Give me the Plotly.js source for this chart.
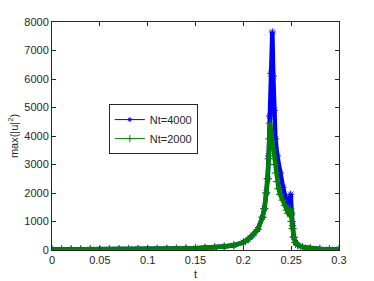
<!DOCTYPE html>
<html>
<head>
<meta charset="utf-8">
<script src="https://cdn.plot.ly/plotly-3.0.1.min.js"></script>
<style>html,body{margin:0;padding:0;background:#fff;}#chart{width:374px;height:281px;}</style>
</head>
<body>
<div id="chart"></div>
<script>
// Nt=4000 series
const tBlue = [0,0.01,0.02,0.03,0.04,0.05,0.06,0.07,0.08,0.09,0.1,0.11,0.12,0.13,0.14,0.15,0.16,0.17,0.18,0.19,0.2,0.205,0.21,0.215,0.22,0.222,0.224,0.2255,0.2265,0.2275,0.2288,0.2303,0.2313,0.2322,0.2335,0.2355,0.2385,0.2415,0.244,0.2458,0.247,0.2482,0.2495,0.2505,0.2515,0.2527,0.2545,0.257,0.262,0.27,0.28,0.29,0.3];
const uBlue = [20,20,21,22,23,24,25,27,29,31,34,37,41,46,53,62,75,92,120,165,270,370,520,720,1150,1450,2000,2500,3300,4700,6200,7650,6100,4900,3900,3300,2700,2200,1850,1620,1580,1700,1960,1300,850,450,260,170,100,60,38,28,22];
// Nt=2000 series
const tGreen = [0,0.01,0.02,0.03,0.04,0.05,0.06,0.07,0.08,0.09,0.1,0.11,0.12,0.13,0.14,0.15,0.16,0.17,0.18,0.19,0.2,0.205,0.21,0.215,0.22,0.222,0.224,0.2255,0.2265,0.2272,0.228,0.2292,0.2305,0.2316,0.2328,0.234,0.2352,0.2368,0.2385,0.241,0.2435,0.2455,0.247,0.2482,0.249,0.2498,0.2505,0.2515,0.2527,0.2545,0.257,0.262,0.27,0.28,0.29,0.3];
const uGreen = [20,20,21,22,23,24,25,27,29,31,34,37,41,46,53,62,75,92,120,165,270,370,520,720,1150,1450,2000,2500,3200,3900,4450,4150,3800,3500,3000,2700,2400,2150,1950,1750,1560,1400,1290,1330,1460,1250,1000,750,450,260,170,100,60,38,28,22];
const seriesNames = ["Nt=4000", "Nt=2000"];
const yTicks = [0,1000,2000,3000,4000,5000,6000,7000,8000];
const xTicks = [0,0.05,0.1,0.15,0.2,0.25,0.3];

const blue = "#0000ff", green = "#008000";
const traces = [
  {x: tBlue, y: uBlue, mode: "lines+markers", showlegend: false,
   line: {color: blue, width: 4.5},
   marker: {symbol: "asterisk-open", size: 6, color: blue, line: {color: blue, width: 1}}},
  {x: tGreen, y: uGreen, mode: "lines+markers", showlegend: false,
   line: {color: green, width: 4.5},
   marker: {symbol: "cross-thin-open", size: 6, color: green, line: {color: green, width: 1}}},
  {x: [null], y: [null], mode: "lines+markers", name: seriesNames[0],
   line: {color: blue, width: 1}, marker: {symbol: "asterisk-open", size: 4, color: blue, line: {color: blue, width: 1}}},
  {x: [null], y: [null], mode: "lines+markers", name: seriesNames[1],
   line: {color: green, width: 1}, marker: {symbol: "cross-thin-open", size: 5, color: green, line: {color: green, width: 1}}}
];
const axisCommon = {
  showline: true, mirror: "ticks", linecolor: "#262626", linewidth: 1,
  ticks: "inside", ticklen: 4, tickcolor: "#262626", showgrid: false, zeroline: false,
  tickfont: {family: "Liberation Sans, Arial, sans-serif", size: 11, color: "#262626"}
};
const layout = {
  width: 374, height: 281,
  margin: {l: 52, r: 35, t: 22, b: 31},
  paper_bgcolor: "#fff", plot_bgcolor: "#fff",
  font: {family: "Liberation Sans, Arial, sans-serif", size: 11, color: "#262626"},
  xaxis: Object.assign({}, axisCommon, {range: [0, 0.3], tickvals: xTicks,
    title: {text: "t", standoff: 5, font: {size: 11}}}),
  yaxis: Object.assign({}, axisCommon, {range: [0, 8000], tickvals: yTicks,
    title: {text: "max(|u|<sup>2</sup>)", standoff: 3, font: {size: 11}}}),
  legend: {x: 0.198, y: 0.64, xanchor: "left", yanchor: "top",
    bgcolor: "#fff", bordercolor: "#262626", borderwidth: 1,
    font: {size: 11}, tracegroupgap: 0, itemwidth: 30},
  showlegend: true
};
Plotly.newPlot("chart", traces, layout, {staticPlot: true, displayModeBar: false});
</script>
</body>
</html>
